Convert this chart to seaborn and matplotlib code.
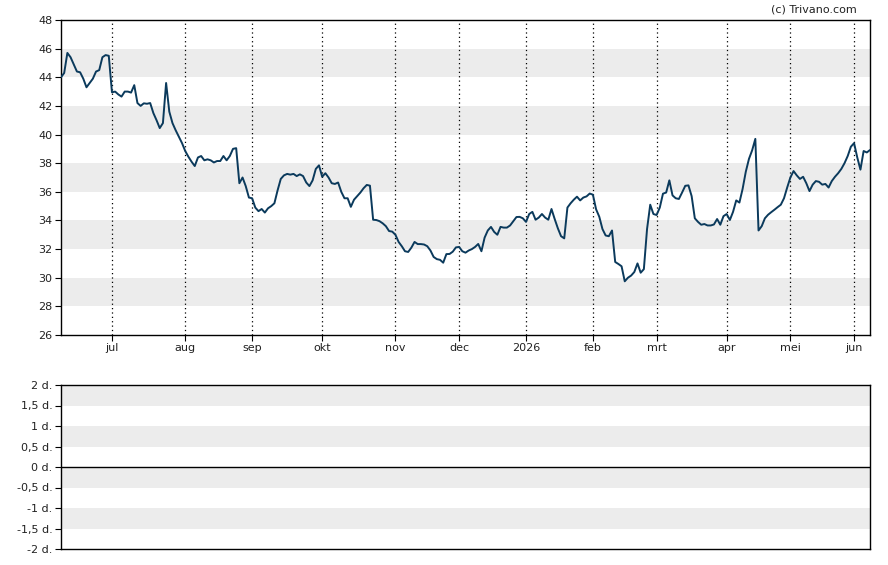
import matplotlib
matplotlib.use("Agg")
import matplotlib.pyplot as plt
import numpy as np
import pandas as pd
import seaborn as sns

# trading days (Euronext calendar), June 2025 - June 2026
start_date = "2025-06-09"
end_date = "2026-06-08"
holidays = ["2025-12-25", "2025-12-26", "2026-01-01", "2026-04-03", "2026-04-06", "2026-05-01"]

# closing prices, one per trading day
price = [
    44.0, 44.3, 45.7, 45.4, 44.9, 44.4, 44.35, 43.9, 43.3, 43.6,
    43.9, 44.4, 44.5, 45.4, 45.55, 45.5, 42.95, 43.0, 42.8, 42.65,
    43.0, 43.0, 42.93, 43.45, 42.2, 42.0, 42.18, 42.15, 42.2, 41.5,
    41.0, 40.45, 40.8, 43.6, 41.6, 40.8, 40.3, 39.85, 39.4, 38.85,
    38.45, 38.1, 37.8, 38.4, 38.5, 38.2, 38.27, 38.2, 38.05, 38.15,
    38.15, 38.5, 38.2, 38.5, 39.0, 39.05, 36.6, 37.0, 36.4, 35.6,
    35.55, 34.9, 34.65, 34.8, 34.55, 34.85, 35.0, 35.2, 36.1, 36.9,
    37.15, 37.25, 37.2, 37.25, 37.1, 37.22, 37.1, 36.65, 36.4, 36.8,
    37.6, 37.85, 37.05, 37.3, 37.0, 36.6, 36.55, 36.65, 36.0, 35.55,
    35.55, 34.95, 35.45, 35.7, 35.95, 36.25, 36.48, 36.43, 34.05, 34.03,
    33.95, 33.8, 33.6, 33.26, 33.22, 33.0, 32.5, 32.2, 31.85, 31.8,
    32.1, 32.5, 32.35, 32.35, 32.32, 32.2, 31.9, 31.45, 31.3, 31.25,
    31.05, 31.65, 31.66, 31.82, 32.12, 32.15, 31.85, 31.75, 31.9, 32.0,
    32.15, 32.36, 31.85, 32.8, 33.3, 33.55, 33.2, 33.0, 33.55, 33.5,
    33.5, 33.65, 33.95, 34.24, 34.25, 34.15, 33.9, 34.45, 34.6, 34.05,
    34.2, 34.45, 34.2, 34.05, 34.8, 34.1, 33.45, 32.9, 32.75, 34.9,
    35.2, 35.45, 35.66, 35.4, 35.6, 35.68, 35.88, 35.8, 34.78, 34.26,
    33.4, 32.95, 32.9, 33.3, 31.1, 30.96, 30.8, 29.75, 30.0, 30.15,
    30.4, 31.0, 30.35, 30.6, 33.4, 35.1, 34.45, 34.38, 34.9, 35.87,
    35.95, 36.8, 35.75, 35.55, 35.5, 35.95, 36.42, 36.45, 35.7, 34.15,
    33.9, 33.7, 33.75, 33.65, 33.65, 33.72, 34.1, 33.7, 34.3, 34.45,
    34.03, 34.6, 35.4, 35.25, 36.2, 37.4, 38.3, 38.9, 39.7, 33.3,
    33.6, 34.15, 34.4, 34.58, 34.75, 34.93, 35.1, 35.55, 36.3, 37.0,
    37.45, 37.15, 36.9, 37.05, 36.6, 36.05, 36.5, 36.75, 36.7, 36.5,
    36.55, 36.3, 36.75, 37.05, 37.3, 37.6, 38.0, 38.5, 39.15, 39.4,
    38.4, 37.55, 38.85, 38.75, 38.92,
]

month_names = ["jan", "feb", "mrt", "apr", "mei", "jun",
               "jul", "aug", "sep", "okt", "nov", "dec"]
price_ticks = [26, 28, 30, 32, 34, 36, 38, 40, 42, 44, 46, 48]
price_bands = [(28, 30), (32, 34), (36, 38), (40, 42), (44, 46)]
lower_ticks = [-2, -1.5, -1, -0.5, 0, 0.5, 1, 1.5, 2]
lower_bands = [(1.5, 2), (0.5, 1), (-0.5, 0), (-1.5, -1)]

LINE = "#0b3a5c"
BAND = "#ececec"

dates = pd.bdate_range(start_date, end_date)
dates = dates[~dates.isin(pd.to_datetime(holidays))]
df = pd.DataFrame({"day": np.arange(len(price)), "price": price, "date": dates[:len(price)]})

# first trading day of each month
first = df.groupby([df.date.dt.year, df.date.dt.month]).day.min().iloc[1:]
tick_pos = first.values
tick_lab = []
for (yr, mo) in first.index:
    tick_lab.append(str(yr) if mo == 1 else month_names[mo - 1])

sns.set_style("white")
plt.rcParams["font.family"] = ["DejaVu Sans"]

fig = plt.figure(figsize=(8.88, 5.65), dpi=100)
ax = fig.add_axes([61 / 888, 1 - 335 / 565, 809 / 888, 315 / 565])
ax2 = fig.add_axes([61 / 888, 1 - 549 / 565, 809 / 888, 164 / 565])

# --- price panel ---
for lo, hi in price_bands:
    ax.axhspan(lo, hi, color=BAND, lw=0, zorder=0)
for p in tick_pos:
    ax.axvline(p, color="black", ls=(0, (1, 2.5)), lw=0.9, zorder=1)
sns.lineplot(data=df, x="day", y="price", ax=ax, color=LINE, lw=1.4, zorder=3)
ax.set_xlim(0, len(price) - 1)
ax.set_ylim(26, 48)
ax.set_yticks(price_ticks)
ax.set_xticks(tick_pos)
ax.set_xticklabels(tick_lab)
ax.set_xlabel("")
ax.set_ylabel("")

# --- lower panel ---
for lo, hi in lower_bands:
    ax2.axhspan(lo, hi, color=BAND, lw=0, zorder=0)
ax2.axhline(0, color="black", lw=1.0)
ax2.set_xlim(0, len(price) - 1)
ax2.set_ylim(-2, 2)
ax2.set_yticks(lower_ticks)
ax2.set_yticklabels([(f"{t:g}".replace(".", ",")) + " d." for t in lower_ticks])
ax2.set_xticks([])

for a in (ax, ax2):
    for s in a.spines.values():
        s.set_visible(True)
        s.set_color("black")
        s.set_linewidth(1.0)
    a.tick_params(axis="both", direction="out", length=4, width=0.8,
                  color="black", labelsize=8, labelcolor="#222222", pad=2,
                  left=True, bottom=True)

fig.text(857 / 888, 1 - 9 / 565, "(c) Trivano.com", ha="right", va="center",
         fontsize=8, color="#222222")

fig.savefig("out.png", dpi=100)
